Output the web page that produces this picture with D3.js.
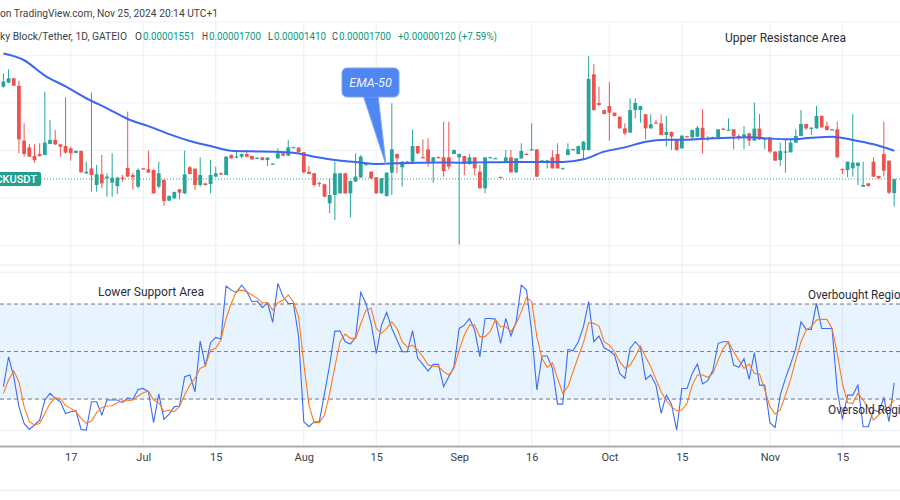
<!DOCTYPE html>
<html><head><meta charset="utf-8">
<script src="https://cdn.jsdelivr.net/npm/d3@7"></script>
<style>body{margin:0;background:#fff;} svg{display:block;font-family:Roboto,"Noto Sans",sans-serif;}</style>
</head><body><svg id="c" width="900" height="500"></svg>
<script>
// Prices in millionths of USDT (e.g. 17.00 = 0.00001700), daily bars from Jun 4 to Nov 25 2024
const open = [26.72,27.14,27.60,26.82,21.04,20.33,19.42,19.63,19.53,20.69,
21.11,20.65,20.47,20.23,19.75,19.95,17.60,18.12,16.37,17.49,
17.07,16.62,16.26,17.14,18.16,17.42,16.19,18.12,18.02,17.95,
16.19,16.90,14.72,14.97,15.91,15.49,18.23,18.09,16.37,16.54,
16.47,17.25,17.60,17.42,19.53,19.30,19.35,19.63,19.42,19.20,
19.28,19.00,18.58,19.18,19.70,19.46,20.30,20.30,19.82,17.77,
17.60,16.58,16.44,14.44,15.32,15.49,17.60,15.49,16.72,17.18,
18.52,17.77,17.18,15.49,15.21,17.67,19.63,18.23,18.80,18.82,
20.47,19.30,20.12,18.82,19.30,19.28,19.28,19.63,19.28,19.42,
18.58,19.28,17.77,16.02,19.26,19.15,17.22,18.82,19.28,17.70,
19.18,19.65,20.05,20.12,18.90,18.90,19.28,19.63,18.10,19.53,
20.10,19.63,20.05,20.05,28.02,25.00,24.26,24.68,23.98,23.56,
22.33,21.88,24.26,24.26,23.81,22.33,22.95,22.86,21.63,21.95,
21.17,20.23,21.50,21.39,21.46,22.40,21.30,21.35,21.39,22.30,
22.12,22.23,21.53,21.46,21.81,21.04,22.30,21.20,21.39,19.88,
19.00,19.85,19.81,20.83,21.53,22.79,22.30,22.33,23.63,22.58,
22.20,22.23,18.05,17.95,18.12,18.37,16.19,16.54,18.82,17.32,
19.63,18.93,15.51];
const high = [28.12,28.54,27.65,27.35,22.86,20.69,20.65,20.76,26.19,23.21,
22.16,20.70,25.60,20.40,20.00,20.00,18.82,26.12,18.47,19.53,
17.60,19.70,17.25,17.42,24.09,17.67,18.12,18.15,19.98,18.00,
18.82,16.97,15.30,15.70,15.95,19.98,18.37,18.10,19.28,16.60,
19.00,18.30,17.70,19.40,19.60,19.95,19.70,19.95,19.45,19.30,
19.30,19.30,18.65,20.23,19.75,21.11,20.40,20.35,19.85,18.37,
17.65,16.72,16.50,17.07,18.82,17.65,17.65,16.85,19.70,19.53,
18.60,17.80,17.20,17.10,17.70,24.96,19.70,18.90,18.90,22.23,
20.50,21.17,21.28,19.30,19.40,23.04,23.04,20.10,19.70,19.45,
19.63,19.30,18.47,19.30,19.35,19.25,17.25,20.05,20.05,19.20,
20.76,19.70,22.86,20.15,19.00,19.00,20.05,20.76,18.20,20.76,
20.20,20.50,21.00,29.95,29.11,26.72,24.30,27.18,24.00,23.60,
22.86,25.49,25.49,24.70,23.85,23.81,23.21,23.81,23.63,22.00,
21.20,21.60,21.55,22.20,22.58,24.33,21.50,21.45,22.25,22.40,
23.39,22.25,21.70,22.58,21.85,25.03,23.84,21.30,21.40,19.90,
20.83,21.17,21.11,22.23,24.26,22.80,22.45,24.68,23.70,23.04,
22.25,23.04,18.12,18.85,23.84,18.75,18.82,16.60,19.28,17.35,
23.04,18.95,17.00];
const low = [26.60,27.10,26.80,19.70,19.35,19.30,18.72,19.35,19.50,20.65,
20.58,19.35,19.70,18.93,19.70,17.65,17.55,15.67,15.67,16.02,
15.14,15.14,15.42,16.72,17.20,15.91,16.02,18.00,17.65,15.45,
16.02,14.16,14.65,14.90,14.86,15.40,17.50,15.84,16.19,16.30,
15.49,17.20,17.40,17.40,19.10,19.18,19.18,19.30,19.00,19.15,
18.95,18.37,18.55,19.10,19.40,19.40,20.28,19.80,17.60,17.50,
16.19,16.19,15.10,13.39,12.69,15.45,15.42,12.97,16.70,17.10,
18.50,17.00,15.45,15.45,15.15,15.32,17.60,16.19,18.78,18.80,
19.65,19.20,18.30,16.62,19.20,17.25,18.00,19.60,10.10,17.42,
18.50,17.42,16.00,15.49,19.20,19.10,17.12,18.80,17.65,17.65,
19.10,19.55,20.00,17.20,18.85,18.12,18.10,18.10,18.05,19.50,
20.05,19.60,19.00,20.00,24.20,24.70,23.80,21.04,23.60,22.30,
21.63,21.85,23.39,22.93,21.17,22.30,22.85,21.60,20.40,20.05,
20.00,20.20,21.40,21.17,21.40,19.70,21.00,21.30,21.35,22.15,
22.10,20.12,21.10,20.12,20.47,21.00,21.10,20.12,19.70,18.90,
18.37,17.67,19.80,20.80,21.50,22.16,21.63,22.30,22.40,22.10,
22.15,19.25,17.53,17.18,17.25,16.37,16.15,16.20,17.20,17.00,
17.25,15.42,14.10];
const close = [27.25,27.60,26.82,21.17,19.63,19.35,19.00,19.42,20.83,21.11,
20.65,20.40,19.77,19.70,19.95,17.70,17.77,17.42,17.49,16.54,
17.25,17.14,17.14,16.97,17.25,17.18,17.95,18.02,17.67,15.49,
17.60,14.69,15.21,15.63,15.56,17.49,17.53,16.37,17.42,16.37,
17.42,17.60,17.46,19.35,19.18,19.38,19.63,19.35,19.07,19.23,
19.00,19.25,18.62,19.70,19.46,20.33,20.35,19.82,17.70,17.53,
16.37,16.52,15.14,15.32,17.60,17.60,15.49,16.79,17.25,19.35,
18.56,17.07,15.49,17.07,17.67,20.12,19.18,18.82,18.84,20.47,
19.70,19.26,18.82,19.28,19.26,17.84,18.30,20.05,19.63,18.58,
19.28,18.12,16.02,19.28,19.30,19.20,17.15,19.28,17.70,19.18,
19.95,19.60,20.12,17.25,18.95,18.96,18.12,18.12,18.14,20.12,
20.14,20.47,20.93,27.53,24.26,24.79,23.84,23.98,23.63,22.33,
21.81,24.26,25.00,24.68,22.33,22.75,22.90,21.63,21.95,21.46,
20.05,21.56,21.45,22.16,22.40,21.17,21.35,21.39,22.23,22.20,
22.20,21.53,21.50,21.70,21.04,22.30,21.17,21.25,19.88,18.93,
19.95,19.90,20.83,21.53,22.79,22.33,22.40,23.63,22.44,22.16,
22.23,19.28,18.00,18.82,18.72,18.72,16.37,16.26,17.25,17.07,
17.88,15.56,17.00];
// EMA-50 read at every 4th bar
const emaBars = [0,4,8,12,16,20,24,28,32,36,40,44,48,52,56,60,64,68,72,76,80,84,88,92,96,100,104,108,112,116,120,124,128,132,136,140,144,148,152,156,160,164,168,172];
const emaValues = [30.2,29.5,27.88,26.75,25.5,24.44,23.32,22.56,21.72,21.0,20.47,19.97,19.91,19.88,19.77,19.35,19.0,18.79,18.58,18.65,18.72,18.75,18.72,18.75,18.77,18.79,18.79,18.79,19.07,19.88,20.33,20.93,21.14,21.14,21.25,21.35,21.39,21.25,21.18,21.35,21.46,21.11,20.65,19.98];
// Stochastic %K and %D
const stochK = [27.8,46.7,34.1,15.2,4.6,0.8,3.6,6.7,19.4,23.6,
20.4,18.3,10.9,12.0,12.6,0.8,0.4,18.3,18.3,9.9,
19.4,19.4,19.4,17.7,20.8,19.8,26.1,26.7,24.6,5.1,
23.2,7.2,10.5,15.2,15.6,34.1,35.2,24.6,56.6,40.8,
55.6,58.9,57.9,91.4,88.8,87.2,92.0,87.8,81.5,81.9,
77.7,80.8,68.4,93.1,84.6,80.4,80.4,59.4,5.7,2.5,
5.7,5.7,23.6,41.5,62.9,62.9,56.2,54.7,58.9,87.4,
80.4,67.8,48.8,66.7,74.7,64.6,57.3,49.9,49.9,63.2,
45.7,41.9,37.7,41.9,41.9,27.8,34.1,40.4,64.6,66.7,
70.9,63.6,46.7,70.9,70.9,70.5,55.2,70.9,59.8,68.8,
92.0,88.8,62.5,25.7,47.2,47.2,39.4,16.8,16.8,51.4,
50.5,56.2,65.7,81.5,56.2,59.8,52.4,50.5,47.8,36.2,
33.1,52.0,56.2,52.6,32.4,35.2,28.8,10.9,22.5,16.8,
0.4,26.7,26.7,36.2,42.1,29.5,31.6,38.3,55.2,56.2,
56.2,41.5,40.0,45.5,32.4,49.3,28.8,28.8,5.1,2.1,
22.5,33.1,42.1,52.0,68.8,64.0,64.0,80.4,64.6,64.6,
64.6,25.7,7.2,22.5,22.5,28.8,2.5,2.5,13.1,12.0,
20.8,5.7,30.3];
const stochD = [23.6,32.0,37.7,30.9,15.2,5.7,3.6,4.6,10.9,17.3,
20.8,20.4,15.8,14.1,12.0,7.8,4.6,6.1,11.4,14.7,
15.6,15.8,17.7,18.9,18.9,19.4,21.9,24.0,25.1,19.4,
17.7,12.0,13.1,12.0,15.2,22.5,28.8,33.1,39.4,40.8,
50.9,52.0,57.3,70.9,80.4,88.2,88.8,87.8,85.7,83.6,
80.8,80.8,76.2,80.8,82.5,85.7,81.5,72.0,42.5,16.2,
5.1,5.1,9.9,23.6,40.4,56.2,61.1,58.3,58.3,67.4,
76.2,77.3,64.6,61.5,64.6,68.8,64.6,56.2,52.6,54.1,
50.9,46.7,41.5,40.8,40.4,37.3,35.2,39.4,50.9,60.4,
66.7,66.7,59.4,59.4,62.5,70.3,65.7,65.7,62.5,67.8,
75.2,84.2,81.5,59.4,45.7,40.0,42.9,33.1,23.6,27.8,
37.3,46.7,55.6,68.2,67.8,66.1,56.2,54.1,49.9,43.6,
39.4,41.5,46.7,53.5,46.7,40.4,32.4,24.6,18.9,15.2,
12.6,13.1,17.3,28.8,35.2,35.2,33.7,36.2,44.6,52.0,
56.2,49.9,44.6,39.4,42.1,36.2,35.8,26.1,15.2,10.5,
13.1,22.5,32.4,44.6,56.2,63.6,65.7,69.9,70.3,70.3,
64.6,48.8,29.9,17.7,17.3,23.6,19.4,14.1,6.7,9.9,
13.1,15.2,19.4];
// Time axis ticks (bar index of each labelled date)
const tickBars = [13,27,41,58,72,88,102,117,131,148,162];
const tickLabels = ["17","Jul","15","Aug","15","Sep","16","Oct","15","Nov","15"];
const priceGrid = [10,15,20,25,30];
const stochGrid = [0,20,40,60,80,100];
const stochLevels = [80,50,20];
const lastClose = close[close.length-1];

const svg = d3.select('#c');
const n = close.length;
const x = d3.scaleLinear().domain([0, n-1]).range([3.4, 894.2]);
const y = d3.scaleLinear().domain([10, 30]).range([245.5, 55.5]);
const ys = d3.scaleLinear().domain([0, 100]).range([430.7, 272.4]);
const UP = "#26a69a", DN = "#ef5350", GRID = "#eef1f7";

svg.append('rect').attr('width',900).attr('height',500).attr('fill','#fff');
const defs = svg.append('defs');
defs.append('clipPath').attr('id','mainClip').append('rect').attr('x',0).attr('y',22).attr('width',900).attr('height',243);
defs.append('clipPath').attr('id','stClip').append('rect').attr('x',0).attr('y',266).attr('width',900).attr('height',180);

// grid
const grid = svg.append('g');
grid.selectAll('.vg').data(tickBars).join('line')
  .attr('x1',d=>x(d)).attr('x2',d=>x(d)).attr('y1',22).attr('y2',446)
  .attr('stroke',GRID).attr('stroke-width',1.2);
grid.selectAll('.hg').data(priceGrid).join('line')
  .attr('x1',0).attr('x2',900).attr('y1',d=>y(d)).attr('y2',d=>y(d))
  .attr('stroke',GRID).attr('stroke-width',1.2);
grid.append('line').attr('x1',0).attr('x2',900).attr('y1',22).attr('y2',22).attr('stroke',GRID).attr('stroke-width',1.2);
grid.append('line').attr('x1',0).attr('x2',900).attr('y1',265).attr('y2',265).attr('stroke','#e6e9f0').attr('stroke-width',1.2);

// stochastic pane background band
const st = svg.append('g').attr('clip-path','url(#stClip)');
st.append('rect').attr('x',0).attr('width',900).attr('y',ys(80)).attr('height',ys(20)-ys(80)).attr('fill','#2196f3').attr('fill-opacity',0.11);
st.selectAll('.sg').data(stochGrid).join('line')
  .attr('x1',0).attr('x2',900).attr('y1',d=>ys(d)).attr('y2',d=>ys(d))
  .attr('stroke',GRID).attr('stroke-width',1.2);
st.selectAll('.lv').data(stochLevels).join('line')
  .attr('x1',0).attr('x2',900).attr('y1',d=>ys(d)).attr('y2',d=>ys(d))
  .attr('stroke','#787b86').attr('stroke-width',1).attr('stroke-dasharray','4,3');
const kLine = d3.line().x((d,i)=>x(i)).y(d=>ys(d));
st.append('path').datum(stochK).attr('d',kLine).attr('fill','none').attr('stroke','#3d6cf5').attr('stroke-width',1.1);
st.append('path').datum(stochD).attr('d',kLine).attr('fill','none').attr('stroke','#ff7a1a').attr('stroke-width',1.1);

// main pane
const mp = svg.append('g').attr('clip-path','url(#mainClip)');
mp.append('line').attr('x1',41).attr('x2',900).attr('y1',y(lastClose)).attr('y2',y(lastClose))
  .attr('stroke',UP).attr('stroke-width',1).attr('stroke-dasharray','1,2');
const idx = d3.range(n);
mp.selectAll('.wick').data(idx).join('line')
  .attr('x1',i=>x(i)).attr('x2',i=>x(i)).attr('y1',i=>y(high[i])).attr('y2',i=>y(low[i]))
  .attr('stroke',i=>close[i]>=open[i]?UP:DN).attr('stroke-width',1);
mp.selectAll('.body').data(idx).join('rect')
  .attr('x',i=>x(i)-1.9).attr('width',3.8)
  .attr('y',i=>y(Math.max(open[i],close[i])))
  .attr('height',i=>Math.max(1.2, Math.abs(y(open[i])-y(close[i]))))
  .attr('fill',i=>close[i]>=open[i]?UP:DN);
const emaLine = d3.line().x((d,i)=>x(emaBars[i])).y(d=>y(d)).curve(d3.curveMonotoneX);
mp.append('path').datum(emaValues).attr('d',emaLine).attr('fill','none').attr('stroke','#3a66f0').attr('stroke-width',2);

// EMA-50 callout
const co = svg.append('g');
co.append('path').attr('d','M363,95 L386,165 L378,95 Z').attr('fill','#4f86f2').attr('stroke','#7ea7f5').attr('stroke-width',1);
co.append('rect').attr('x',342).attr('y',68).attr('width',57).attr('height',29).attr('rx',5)
  .attr('fill','#4f86f2').attr('stroke','#7ea7f5').attr('stroke-width',1);
co.append('rect').attr('x',363.5).attr('y',94).attr('width',14).attr('height',3).attr('fill','#4f86f2');
co.append('text').attr('x',370.5).attr('y',87).attr('text-anchor','middle').attr('fill','#eef3ff')
  .attr('font-size',12.5).attr('font-style','italic').text('EMA-50');

// symbol label
svg.append('rect').attr('x',-10).attr('y',172).attr('width',51).attr('height',14).attr('rx',2).attr('fill','#22a08f');
svg.append('text').attr('x',37).attr('y',183).attr('text-anchor','end').attr('fill','#fff')
  .attr('font-size',11).attr('font-weight',500).text('BLOCKUSDT');

// annotations
const ann = [["Upper Resistance Area",725,42,121],["Lower Support Area",98,296,106],["Overbought Region",808,299,99],["Oversold Region",828,414,86]];
svg.selectAll('.ann').data(ann).join('text')
  .attr('x',d=>d[1]).attr('y',d=>d[2]).attr('fill','#2a2e39').attr('font-size',12.5)
  .attr('textLength',d=>d[3]).attr('lengthAdjust','spacingAndGlyphs').text(d=>d[0]);

// header
svg.append('text').attr('x',0).attr('y',17).attr('fill','#3b3f4a').attr('font-size',11.5)
  .attr('textLength',218).attr('lengthAdjust','spacingAndGlyphs').text('on TradingView.com, Nov 25, 2024 20:14 UTC+1');
const legend = [["ky Block/Tether, 1D, GATEIO",0,127,"#3b3f4a"],["O",135,7,"#3b3f4a"],["0.00001551",143,52,"#089981"],
 ["H",202,6,"#3b3f4a"],["0.00001700",209,52,"#089981"],["L",268,5,"#3b3f4a"],["0.00001410",274,52,"#089981"],
 ["C",332,6,"#3b3f4a"],["0.00001700",339,52,"#089981"],["+0.00000120 (+7.59%)",398,99,"#089981"]];
svg.selectAll('.lg').data(legend).join('text')
  .attr('x',d=>d[1]).attr('y',40).attr('fill',d=>d[3]).attr('font-size',11)
  .attr('textLength',d=>d[2]).attr('lengthAdjust','spacingAndGlyphs').text(d=>d[0]);

// time axis
svg.append('line').attr('x1',0).attr('x2',900).attr('y1',446.5).attr('y2',446.5).attr('stroke','#a9acb5').attr('stroke-width',2);
const ax = svg.append('g').attr('transform','translate(0,453)')
  .call(d3.axisBottom(x).tickValues(tickBars).tickFormat((d,i)=>tickLabels[i]).tickSize(0).tickPadding(0));
ax.select('.domain').remove();
ax.selectAll('text').attr('font-size',11).attr('fill','#3b3f4a').attr('font-family','Roboto,sans-serif');
svg.append('line').attr('x1',0).attr('x2',900).attr('y1',490.5).attr('y2',490.5).attr('stroke','#f0f2f6').attr('stroke-width',1.5);
</script></body></html>
